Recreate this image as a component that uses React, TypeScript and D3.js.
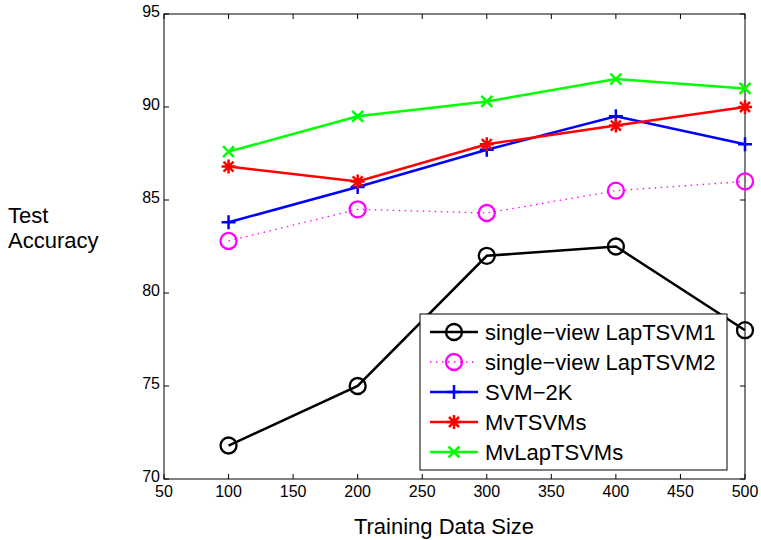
import React from "react";
import * as d3 from "d3";

const sizes = [100, 200, 300, 400, 500];
const lap1 = [71.8, 75, 82, 82.5, 78];
const lap2 = [82.8, 84.5, 84.3, 85.5, 86];
const svm2k = [83.8, 85.7, 87.7, 89.5, 88];
const mvtsvm = [86.8, 86, 88, 89, 90];
const mvlap = [87.6, 89.5, 90.3, 91.5, 91];
const xTicks = [50, 100, 150, 200, 250, 300, 350, 400, 450, 500];
const yTicks = [70, 75, 80, 85, 90, 95];

const seriesNames = ["single\u2212view LapTSVM1", "single\u2212view LapTSVM2", "SVM\u22122K", "MvTSVMs", "MvLapTSVMs"];
const seriesData = [lap1, lap2, svm2k, mvtsvm, mvlap];
const seriesColors = ["#000000", "#ff00ff", "#0000ff", "#ff0000", "#00ff00"];
const seriesMarkers = ["circle", "circle", "plus", "star", "x"];

const L = 164, R = 745, T = 14, B = 479;
const font = "Liberation Sans, Arial, sans-serif";

function Marker({ type, x, y, color }: { type: string; x: number; y: number; color: string }) {
  if (type === "circle") return <circle cx={x} cy={y} r={8} fill="none" stroke={color} strokeWidth={2.3} />;
  const s = 7;
  if (type === "plus")
    return <path d={`M${x - s},${y}H${x + s}M${x},${y - s}V${y + s}`} stroke={color} strokeWidth={2.5} />;
  if (type === "x")
    return <path d={`M${x - 5.5},${y - 5.5}L${x + 5.5},${y + 5.5}M${x - 5.5},${y + 5.5}L${x + 5.5},${y - 5.5}`} stroke={color} strokeWidth={2.5} />;
  const d = 5;
  return (
    <path
      d={`M${x - s},${y}H${x + s}M${x},${y - s}V${y + s}M${x - d},${y - d}L${x + d},${y + d}M${x - d},${y + d}L${x + d},${y - d}`}
      stroke={color}
      strokeWidth={2.5}
    />
  );
}

export default function App() {
  const x = d3.scaleLinear().domain([50, 500]).range([L, R]);
  const y = d3.scaleLinear().domain([70, 95]).range([B, T]);
  const line = d3
    .line<number>()
    .x((_, i) => x(sizes[i]))
    .y((v) => y(v));

  const legX = 420, legY = 314, legW = 307, legH = 156;
  const rowH = 30;

  return (
    <svg width={761} height={540} style={{ position: "absolute", left: 0, top: 0 }} fontFamily={font}>
      <rect x={0} y={0} width={761} height={540} fill="#fff" />
      <rect x={L} y={T} width={R - L} height={B - T} fill="none" stroke="#000" strokeWidth={1} />
      {xTicks.map((t) => (
        <g key={"x" + t}>
          <line x1={x(t)} x2={x(t)} y1={B} y2={B - 5} stroke="#000" />
          <line x1={x(t)} x2={x(t)} y1={T} y2={T + 5} stroke="#000" />
          <text x={x(t)} y={B + 18} fontSize={16} textAnchor="middle">{t}</text>
        </g>
      ))}
      {yTicks.map((t) => (
        <g key={"y" + t}>
          <line x1={L} x2={L + 5} y1={y(t)} y2={y(t)} stroke="#000" />
          <line x1={R} x2={R - 5} y1={y(t)} y2={y(t)} stroke="#000" />
          <text x={L - 4} y={y(t) + 3} fontSize={16} textAnchor="end">{t}</text>
        </g>
      ))}
      <text x={444} y={534} fontSize={22} textAnchor="middle">Training Data Size</text>
      <text x={8} y={223} fontSize={22}>Test</text>
      <text x={8} y={248} fontSize={22}>Accuracy</text>

      {seriesData.map((data, si) => (
        <g key={"s" + si}>
          <path
            d={line(data) || ""}
            fill="none"
            stroke={seriesColors[si]}
            strokeWidth={si === 1 ? 1.3 : 2.5}
            strokeDasharray={si === 1 ? "1.5,4.5" : undefined}
          />
          {data.map((v, i) => (
            <Marker key={i} type={seriesMarkers[si]} x={x(sizes[i])} y={y(v)} color={seriesColors[si]} />
          ))}
        </g>
      ))}

      <rect x={legX} y={legY} width={legW} height={legH} fill="#fff" stroke="#000" strokeWidth={1} />
      {seriesNames.map((name, si) => {
        const cy = legY + 18 + si * rowH;
        return (
          <g key={"l" + si}>
            <line
              x1={legX + 10}
              x2={legX + 58}
              y1={cy}
              y2={cy}
              stroke={seriesColors[si]}
              strokeWidth={si === 1 ? 1.3 : 2.5}
              strokeDasharray={si === 1 ? "1.5,4.5" : undefined}
            />
            <Marker type={seriesMarkers[si]} x={legX + 34} y={cy} color={seriesColors[si]} />
            <text x={legX + 65} y={cy + 8} fontSize={22}>{name}</text>
          </g>
        );
      })}
    </svg>
  );
}
